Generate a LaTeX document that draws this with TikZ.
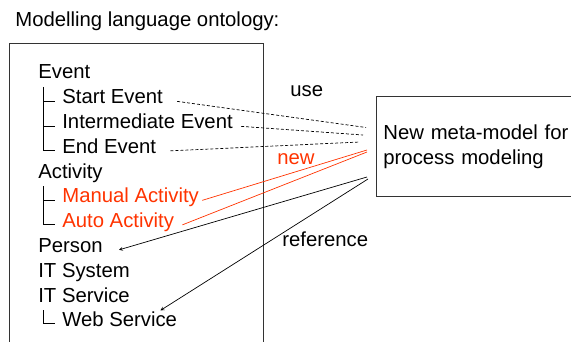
\documentclass[tikz,border=0pt]{standalone}
\usepackage{fontspec}
\setmainfont{Liberation Sans}
\usepackage{xcolor}
\definecolor{newred}{RGB}{255,51,0}
\usetikzlibrary{positioning}

\begin{document}
\begin{tikzpicture}[x=1pt,y=-1pt,>=stealth,line width=0.7pt,
    item/.style={anchor=base west,inner sep=0pt,font=\fontsize{20.3}{25}\selectfont},
    newitem/.style={item,text=newred},
    tree/.style={-,line width=1pt},
    uselink/.style={-,dash pattern=on 3pt off 2pt},
    newlink/.style={-,draw=newred},
    reflink/.style={->}]

            \useasboundingbox (0,0) rectangle (571,342);

            \node[item] (title) at (15,27) {Modelling language ontology:};
            \draw[line width=0.9pt,draw=black!80] (9,43) rectangle (263,360);

            \node[item] (ev) at (38,79) {Event};
            \node[item] (se) at (62,104) {Start Event};
            \node[item] (ie) at (62,129) {Intermediate Event};
            \node[item] (ee) at (62,153.5) {End Event};
            \node[item] (act) at (38,178.5) {Activity};
            \node[newitem] (ma) at (62,203) {Manual Activity};
            \node[newitem] (aa) at (62,227.5) {Auto Activity};
            \node[item] (per) at (38,252.5) {Person};
            \node[item] (sys) at (38,277) {IT System};
            \node[item] (srv) at (38,302) {IT Service};
            \node[item] (ws) at (62,326.5) {Web Service};

            \node[draw,draw=black!80,line width=0.9pt,anchor=north west,text width=200pt,minimum height=100pt,
                inner xsep=7pt,align=left,font=\fontsize{20.3}{25}\selectfont] (meta) at (376,96)
                {New meta-model for\\process modeling};

            \node[item] (use) at (290,97) {use};
            \node[newitem] (new) at (277,165) {new};
            \node[item] (ref) at (282,247) {reference};

            \coordinate (u1) at (366,127.5);
            \coordinate (u2) at (363,135);
            \coordinate (u3) at (360,142);
            \coordinate (n1) at (367,150);
            \coordinate (n2) at (367,152);
            \coordinate (r1) at (367,177);
            \coordinate (r2) at (368,179);

            % tree lines
            \draw[tree] ([xshift=5.5pt,yshift=-8pt]ev.base west) |- ([xshift=-7pt]ee.mid west);
            \draw[tree] ([xshift=-18.5pt]se.mid west) -- ([xshift=-7pt]se.mid west);
            \draw[tree] ([xshift=-18.5pt]ie.mid west) -- ([xshift=-7pt]ie.mid west);
            \draw[tree] ([xshift=5.5pt,yshift=-8pt]act.base west) |- ([xshift=-7pt]aa.mid west);
            \draw[tree] ([xshift=-18.5pt]ma.mid west) -- ([xshift=-7pt]ma.mid west);
            \draw[tree] ([xshift=5.5pt,yshift=-8pt]srv.base west) |- ([xshift=-7pt]ws.mid west);

            \path[uselink]
                ([xshift=14pt]se.mid east) edge (u1)
                ([xshift=8pt]ie.mid east) edge (u2)
                ([xshift=14pt]ee.mid east) edge (u3)
            ;

            \path[newlink]
                ([xshift=3pt]ma.mid east) edge (n1)
                ([xshift=8pt]aa.mid east) edge (n2)
            ;

            \path[reflink]
                (r1) edge ([xshift=16pt]per.mid east)
                (r2) edge ([xshift=-17pt,yshift=1pt]ws.north east)
            ;
        \end{tikzpicture}
\end{document}
